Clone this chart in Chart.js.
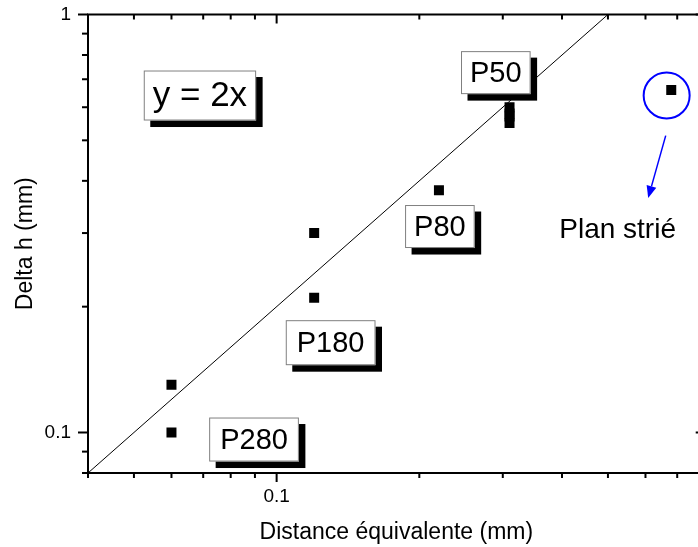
<!DOCTYPE html>
<html><head><meta charset="utf-8">
<script src="https://cdn.jsdelivr.net/npm/chart.js@4.4.1/dist/chart.umd.min.js"></script>
<style>
html,body{margin:0;padding:0;background:#fff;overflow:hidden;}
#wrap{position:relative;width:708px;height:547px;}
canvas{display:block;}
</style></head><body>
<div id="wrap"><canvas id="c" width="708" height="547"></canvas></div>
<script>
// ---- data ----
const pointX = [0.06, 0.06, 0.12, 0.12, 0.22, 0.31, 0.31, 0.31, 0.31, 0.68];
const pointY = [0.13, 0.10, 0.30, 0.21, 0.38, 0.55, 0.57, 0.58, 0.60, 0.66];
const refLineX = [0.04, 0.5];
const refLineY = [0.08, 1];
const xMajorTicks = [0.1];
const yMajorTicks = [0.1, 1];
const xMinorTicks = [0.04, 0.05, 0.06, 0.07, 0.08, 0.09, 0.2, 0.3, 0.4, 0.5, 0.6, 0.7];
const yMinorTicks = [0.08, 0.09, 0.2, 0.3, 0.4, 0.5, 0.6, 0.7, 0.8, 0.9];
const labelTexts = ['y = 2x', 'P50', 'P80', 'P180', 'P280'];
const labelX = [0.0689, 0.290, 0.221, 0.130, 0.0896];
const labelY = [0.640, 0.726, 0.311, 0.164, 0.0962];
const noteText = 'Plan strié';
const noteX = 0.524, noteY = 0.304;
const circleX = 0.665, circleY = 0.640;
const arrowFromX = 0.662, arrowFromY = 0.513, arrowToX = 0.608, arrowToY = 0.364;

// ---- styles ----
const FONT = "'Liberation Sans', Arial, sans-serif";
const labelFontSize = [35, 29, 29, 29, 29];
const labelBoxH = [50, 43, 43, 45, 44];
const labelPadX = [9, 9, 9, 11, 11];

const framePlugin = {
  id: 'frame',
  afterDraw(chart) {
    const ctx = chart.ctx;
    const {left, right, top, bottom} = chart.chartArea;
    const xs = chart.scales.x, ys = chart.scales.y;
    ctx.save();
    ctx.strokeStyle = '#000';
    ctx.lineWidth = 2;
    ctx.strokeRect(left, top, right - left, bottom - top);
    const seg = (x1, y1, x2, y2) => { ctx.beginPath(); ctx.moveTo(x1, y1); ctx.lineTo(x2, y2); ctx.stroke(); };
    xMinorTicks.forEach(v => { const p = xs.getPixelForValue(v); seg(p, bottom, p, bottom + 5); seg(p, top, p, top + 5); });
    xMajorTicks.forEach(v => { const p = xs.getPixelForValue(v); seg(p, bottom, p, bottom + 9); seg(p, top, p, top + 9); });
    yMinorTicks.forEach(v => { const p = ys.getPixelForValue(v); seg(left - 6, p, left, p); seg(right - 5, p, right, p); });
    yMajorTicks.forEach(v => { const p = ys.getPixelForValue(v); seg(left - 10, p, left, p); seg(right - 9, p, right, p); });
    ctx.restore();
  }
};

const notePlugin = {
  id: 'notes',
  afterDatasetsDraw(chart) {
    const ctx = chart.ctx;
    const xs = chart.scales.x, ys = chart.scales.y;
    ctx.save();
    labelTexts.forEach((t, i) => {
      const cx = xs.getPixelForValue(labelX[i]);
      const cy = ys.getPixelForValue(labelY[i]);
      ctx.font = labelFontSize[i] + 'px ' + FONT;
      const w = ctx.measureText(t).width + 2 * labelPadX[i];
      const h = labelBoxH[i];
      const x0 = cx - w / 2, y0 = cy - h / 2;
      ctx.fillStyle = '#000';
      ctx.fillRect(x0 + 6.5, y0 + 6.5, w, h);
      ctx.fillStyle = '#fff';
      ctx.fillRect(x0, y0, w, h);
      ctx.strokeStyle = '#808080';
      ctx.lineWidth = 1;
      ctx.strokeRect(x0 + 0.5, y0 + 0.5, w - 1, h - 1);
      ctx.fillStyle = '#000';
      ctx.textAlign = 'center';
      ctx.textBaseline = 'middle';
      ctx.fillText(t, cx, cy + 1);
    });
    // note text
    ctx.font = '28px ' + FONT;
    ctx.fillStyle = '#000';
    ctx.textAlign = 'center';
    ctx.textBaseline = 'middle';
    ctx.fillText(noteText, xs.getPixelForValue(noteX), ys.getPixelForValue(noteY));
    // circle
    ctx.strokeStyle = '#0000ff';
    ctx.lineWidth = 2;
    ctx.beginPath();
    ctx.arc(xs.getPixelForValue(circleX), ys.getPixelForValue(circleY), 23, 0, Math.PI * 2);
    ctx.stroke();
    // arrow
    const ax1 = xs.getPixelForValue(arrowFromX), ay1 = ys.getPixelForValue(arrowFromY);
    const ax2 = xs.getPixelForValue(arrowToX), ay2 = ys.getPixelForValue(arrowToY);
    const ang = Math.atan2(ay2 - ay1, ax2 - ax1);
    const hl = 12, hw = 5;
    const bx = ax2 - hl * Math.cos(ang), by = ay2 - hl * Math.sin(ang);
    ctx.lineWidth = 1.5;
    ctx.beginPath(); ctx.moveTo(ax1, ay1); ctx.lineTo(bx, by); ctx.stroke();
    ctx.fillStyle = '#0000ff';
    ctx.beginPath();
    ctx.moveTo(ax2, ay2);
    ctx.lineTo(bx + hw * Math.sin(ang), by - hw * Math.cos(ang));
    ctx.lineTo(bx - hw * Math.sin(ang), by + hw * Math.cos(ang));
    ctx.closePath();
    ctx.fill();
    ctx.restore();
  }
};

new Chart(document.getElementById('c'), {
  type: 'scatter',
  data: {
    datasets: [
      {
        type: 'line',
        data: refLineX.map((x, i) => ({x: x, y: refLineY[i]})),
        borderColor: '#000', borderWidth: 1, pointRadius: 0, fill: false, tension: 0, order: 2
      },
      {
        data: pointX.map((x, i) => ({x: x, y: pointY[i]})),
        pointStyle: 'rect', pointRadius: 7.07, backgroundColor: '#000', borderWidth: 0, order: 1
      }
    ]
  },
  options: {
    responsive: false, animation: false, devicePixelRatio: 1,
    layout: {autoPadding: false, padding: {top: 14.5, right: 3.3, left: 0, bottom: 0}},
    plugins: {legend: {display: false}, tooltip: {enabled: false}},
    scales: {
      x: {
        type: 'logarithmic', min: 0.04, max: 0.8,
        grid: {display: false, drawTicks: false}, border: {display: false},
        afterBuildTicks: s => { s.ticks = xMajorTicks.map(v => ({value: v})); },
        afterFit: s => { s.height = 74; s.paddingLeft = 0; s.paddingRight = 0; },
        ticks: {padding: 12, color: '#000', font: {family: FONT, size: 19}, maxRotation: 0, autoSkip: false, callback: v => String(v)},
        title: {display: true, text: 'Distance équivalente (mm)', color: '#000', font: {family: FONT, size: 23}, padding: {top: 0, bottom: 1}}
      },
      y: {
        type: 'logarithmic', min: 0.08, max: 1,
        grid: {display: false, drawTicks: false}, border: {display: false},
        afterBuildTicks: s => { s.ticks = yMajorTicks.map(v => ({value: v})); },
        afterFit: s => { s.width = 88; s.paddingTop = 0; s.paddingBottom = 0; },
        ticks: {padding: 17, color: '#000', font: {family: FONT, size: 19}, autoSkip: false, callback: v => String(v)},
        title: {display: true, text: 'Delta h (mm)', color: '#000', font: {family: FONT, size: 23}, padding: {top: 12, bottom: 0}}
      }
    }
  },
  plugins: [framePlugin, notePlugin]
});
</script>
</body></html>
